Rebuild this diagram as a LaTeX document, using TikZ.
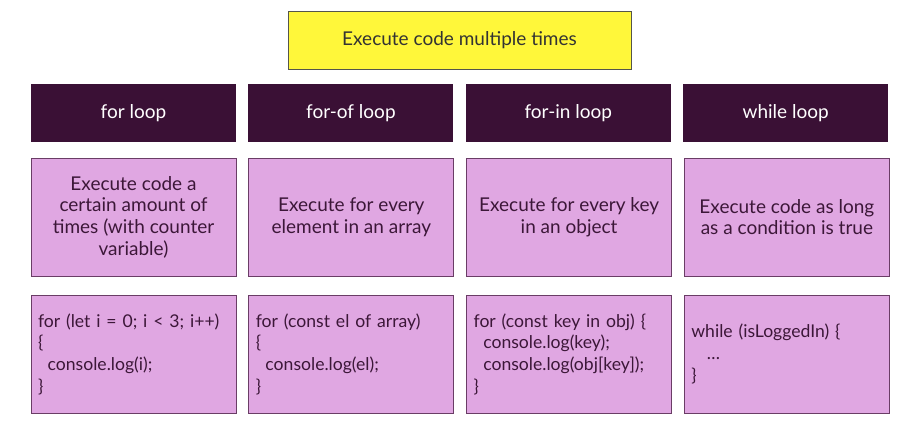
\documentclass[tikz,border=0pt]{standalone}
\usepackage{fontspec}
\setmainfont{Lato}
\usepackage{tikz}
\usetikzlibrary{positioning}
\definecolor{titlefill}{HTML}{FFF73A}
\definecolor{titledraw}{HTML}{55554A}
\definecolor{headfill}{HTML}{3A1035}
\definecolor{boxfill}{HTML}{E0A7E2}
\definecolor{boxdraw}{HTML}{6A3D66}
\definecolor{boxtext}{HTML}{3C1738}
\tikzset{
  title/.style={rectangle, draw=titledraw, fill=titlefill, line width=0.8pt,
    minimum width=343pt, minimum height=58pt, text=black!80,
    font=\fontsize{19}{22}\selectfont},
  head/.style={rectangle, fill=headfill, minimum width=205pt, minimum height=58pt,
    text=white, font=\fontsize{19}{22}\selectfont},
  desc/.style={rectangle, draw=boxdraw, fill=boxfill, line width=0.8pt,
    minimum width=205pt, minimum height=118pt, text=boxtext, align=center,
    font=\fontsize{19}{21.7}\selectfont},
  code/.style={rectangle, draw=boxdraw, fill=boxfill, line width=0.8pt,
    minimum width=205pt, minimum height=118pt, text=boxtext, align=left,
    text width=191pt, inner xsep=7pt, font=\fontsize{17.6}{21.7}\selectfont}
}
\newcommand{\ind}{\hspace*{0.55em}}
\begin{document}
\begin{tikzpicture}[x=1pt,y=1pt]
      \useasboundingbox (0,0) rectangle (916,445);
      \node[title] at (459.5,405) (exec) {Execute code multiple times};
      % loop names
      \node[head] at (133.5,332) (forh) {for loop};
      \node[head, right=12pt of forh] (forofh) {for-of loop};
      \node[head, right=12pt of forofh] (forinh) {for-in loop};
      \node[head, right=12pt of forinh] (whileh) {while loop};
      % what they do
      \node[desc] at (133.5,228) (ford) {Execute code a\\certain amount of\\times (with counter\\variable)};
      \node[desc, right=12pt of ford] (forofd) {Execute for every\\element in an array};
      \node[desc, right=12pt of forofd] (forind) {Execute for every key\\in an object};
      \node[desc, right=12pt of forind] (whiled) {Execute code as long\\as a condition is true};
      % examples
      \node[code] at (133.5,91) (forc) {for (let i = 0; i < 3; i++)\\\{\\\ind console.log(i);\\\}};
      \node[code, right=12pt of forc] (forofc) {for (const el of array)\\\{\\\ind console.log(el);\\\}};
      \node[code, right=12pt of forofc] (forinc) {for (const key in obj) \{\\\ind console.log(key);\\\ind console.log(obj[key]);\\\}};
      \node[code, right=12pt of forinc] (whilec) {while (isLoggedIn) \{\\\ind\ \ldots\\\}};
\end{tikzpicture}
\end{document}
